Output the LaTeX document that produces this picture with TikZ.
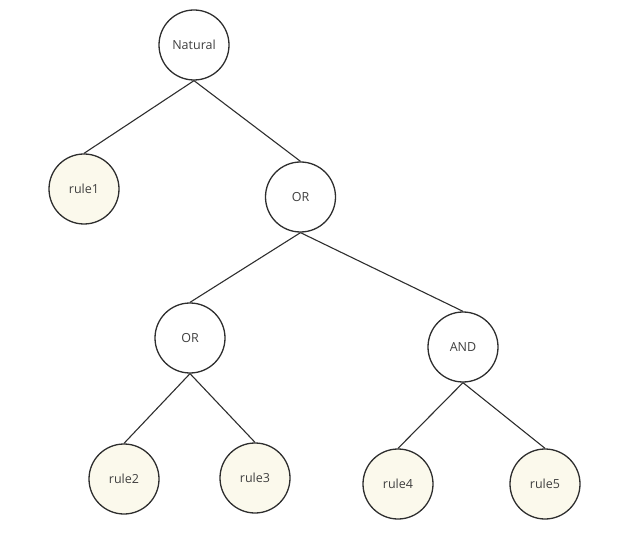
\documentclass[tikz,border=0pt]{standalone}
\usepackage{fontspec}
\setsansfont{Open Sans}
\usetikzlibrary{positioning}
\definecolor{edgegray}{HTML}{2E2E2E}
\definecolor{textgray}{HTML}{404040}
\definecolor{rulefill}{HTML}{FBF9EC}
\tikzset{
  % nodo logico
  opnode/.style={circle, draw=edgegray, line width=1.3pt, fill=white,
    minimum size=70pt, inner sep=0pt, font=\sffamily\fontsize{12.5}{15}\selectfont,
    text=textgray},
  % regola (foglia)
  rulenode/.style={opnode, fill=rulefill},
  % ramo
  branch/.style={draw=edgegray, line width=1.1pt},
}
\begin{document}
\begin{tikzpicture}[x=1pt, y=-1pt]
  \useasboundingbox (0,0) rectangle (626,534);
  \node[opnode] (natural) at (194,45) {Natural};
  \node[rulenode] (rule1) at (84,189) {rule1};
  \node[opnode] (ortop) at (300.5,197) {OR};
  \node[opnode] (orleft) at (190,338) {OR};
  \node[opnode] (and) at (463,347) {AND};
  \node[rulenode] (rule2) at (124,479) {rule2};
  \node[rulenode] (rule3) at (255,478) {rule3};
  \node[rulenode] (rule4) at (398,484) {rule4};
  \node[rulenode] (rule5) at (545,484) {rule5};
  \draw[branch] (natural.south) -- (rule1.north);
  \draw[branch] (natural.south) -- (ortop.north);
  \draw[branch] (ortop.south) -- (orleft.north);
  \draw[branch] (ortop.south) -- (and.north);
  \draw[branch] (orleft.south) -- (rule2.north);
  \draw[branch] (orleft.south) -- (rule3.north);
  \draw[branch] (and.south) -- (rule4.north);
  \draw[branch] (and.south) -- (rule5.north);
\end{tikzpicture}
\end{document}
